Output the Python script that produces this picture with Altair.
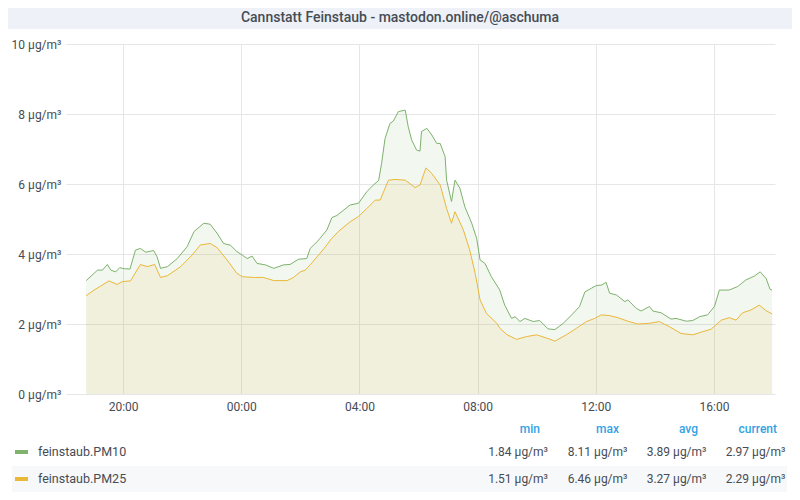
import altair as alt
import pandas as pd

TITLE = "Cannstatt Feinstaub - mastodon.online/@aschuma"
SERIES = ["feinstaub.PM10", "feinstaub.PM25"]
COLORS = ["#7eb26d", "#eab839"]
UNIT = " µg/m³"
STAT_HEADERS = ["min", "max", "avg", "current"]
STAT_MIN = ["1.84", "1.51"]
STAT_MAX = ["8.11", "6.46"]
STAT_AVG = ["3.89", "3.27"]
STAT_CUR = ["2.97", "2.29"]
Y_TICKS = [0, 2, 4, 6, 8, 10]
X_TICKS = ["20:00", "00:00", "04:00", "08:00", "12:00", "16:00"]
X_START, X_END = "18:04", "18:04"

pm10_time = ["18:45", "19:08", "19:18", "19:28", "19:35", "19:45", "19:53", "20:02", "20:14", "20:25",
             "20:35", "20:46", "21:02", "21:09", "21:16", "21:30", "21:50", "22:10", "22:24", "22:44",
             "22:57", "23:11", "23:24", "23:38", "23:51", "00:02", "00:12", "00:22", "00:32", "00:49",
             "01:06", "01:26", "01:39", "01:56", "02:13", "02:20", "02:34", "02:40", "02:54", "03:04",
             "03:14", "03:41", "03:58", "04:15", "04:28", "04:39", "04:45", "04:52", "05:02", "05:09",
             "05:19", "05:33", "05:39", "05:46", "05:56", "06:03", "06:06", "06:17", "06:27", "06:37",
             "06:44", "06:54", "06:57", "07:07", "07:14", "07:24", "07:34", "07:48", "07:58", "08:05",
             "08:15", "08:28", "08:45", "08:55", "09:09", "09:16", "09:26", "09:36", "09:53", "10:06",
             "10:23", "10:37", "10:54", "11:11", "11:27", "11:38", "11:51", "12:01", "12:11", "12:21",
             "12:28", "12:42", "12:59", "13:05", "13:22", "13:32", "13:49", "13:56", "14:13", "14:33",
             "14:43", "15:04", "15:17", "15:31", "15:47", "16:01", "16:11", "16:31", "16:48", "17:05",
             "17:22", "17:34", "17:46", "17:54", "17:58"]
pm10_val = [3.24, 3.54, 3.54, 3.70, 3.54, 3.49, 3.61, 3.58, 3.57, 4.11,
            4.16, 4.05, 4.10, 3.92, 3.59, 3.64, 3.87, 4.21, 4.64, 4.88,
            4.85, 4.59, 4.30, 4.25, 4.07, 3.97, 3.87, 3.94, 3.73, 3.69,
            3.59, 3.69, 3.70, 3.85, 3.87, 4.16, 4.35, 4.45, 4.69, 5.04,
            5.10, 5.40, 5.45, 5.78, 5.97, 6.10, 6.59, 7.30, 7.73, 7.80,
            8.07, 8.11, 7.64, 7.26, 6.97, 6.94, 7.50, 7.59, 7.40, 7.16,
            7.16, 6.78, 6.11, 5.50, 6.11, 5.88, 5.35, 4.88, 4.45, 3.83,
            3.73, 3.35, 2.97, 2.54, 2.16, 2.21, 2.07, 2.16, 2.07, 2.10,
            1.86, 1.84, 2.02, 2.26, 2.50, 2.92, 3.02, 3.10, 3.11, 3.19,
            2.88, 2.83, 2.64, 2.69, 2.45, 2.37, 2.50, 2.37, 2.32, 2.14,
            2.16, 2.08, 2.10, 2.21, 2.26, 2.50, 2.97, 2.97, 3.07, 3.26,
            3.37, 3.49, 3.30, 2.99, 2.97]

pm25_time = ["18:45", "19:01", "19:14", "19:31", "19:48", "19:58", "20:15", "20:35", "20:49", "21:04",
             "21:16", "21:30", "21:57", "22:20", "22:37", "22:57", "23:11", "23:31", "23:51", "00:02",
             "00:25", "00:45", "01:06", "01:33", "01:46", "02:00", "02:10", "02:20", "02:34", "02:40",
             "02:54", "03:01", "03:17", "03:41", "03:58", "04:15", "04:32", "04:42", "04:59", "05:12",
             "05:33", "05:53", "06:03", "06:15", "06:27", "06:44", "06:57", "07:07", "07:14", "07:31",
             "07:44", "07:55", "08:05", "08:18", "08:39", "08:45", "08:59", "09:19", "09:39", "10:00",
             "10:20", "10:37", "11:00", "11:21", "11:41", "11:58", "12:11", "12:28", "12:45", "13:05",
             "13:25", "13:49", "14:09", "14:30", "14:53", "15:17", "15:37", "15:54", "16:15", "16:31",
             "16:45", "16:58", "17:15", "17:32", "17:46", "17:58"]
pm25_val = [2.81, 2.97, 3.08, 3.23, 3.13, 3.21, 3.23, 3.70, 3.64, 3.70,
            3.33, 3.38, 3.64, 3.97, 4.26, 4.30, 4.18, 3.83, 3.45, 3.35,
            3.33, 3.33, 3.24, 3.24, 3.33, 3.49, 3.54, 3.69, 3.92, 4.02,
            4.26, 4.40, 4.64, 4.92, 5.07, 5.30, 5.54, 5.54, 6.11, 6.13,
            6.11, 5.90, 5.97, 6.46, 6.30, 5.97, 5.30, 4.88, 5.21, 4.69,
            4.11, 3.45, 2.69, 2.30, 2.02, 1.88, 1.70, 1.56, 1.64, 1.69,
            1.60, 1.51, 1.69, 1.88, 2.07, 2.16, 2.26, 2.24, 2.18, 2.08,
            2.00, 2.02, 2.07, 1.92, 1.73, 1.69, 1.78, 1.85, 2.11, 2.18,
            2.11, 2.32, 2.40, 2.54, 2.38, 2.29]


def hours(hm, first_day=True):
    # continuous hours since midnight of the first day (window starts at 18:00)
    h, m = (int(p) for p in hm.split(":"))
    val = h + m / 60.0
    if h < 18 or not first_day:
        val += 24
    return val


df = pd.concat([
    pd.DataFrame({"t": [hours(s) for s in pm10_time], "v": pm10_val, "s": SERIES[0]}),
    pd.DataFrame({"t": [hours(s) for s in pm25_time], "v": pm25_val, "s": SERIES[1]}),
])
x_ticks = [hours(s) for s in X_TICKS]
x_domain = [hours(X_START), hours(X_END, first_day=False)]

FONT = "Roboto"
TXT = "#464c54"
GRID = "#e6e6e6"
W, H = 709, 350

color = alt.Color("s:N", scale=alt.Scale(domain=SERIES, range=COLORS), legend=None)
x = alt.X("t:Q", scale=alt.Scale(domain=x_domain, nice=False, zero=False),
          axis=alt.Axis(title=None, values=x_ticks,
                        labelExpr="(datum.value % 24 < 10 ? '0' : '') + (datum.value % 24) + ':00'",
                        domain=False, ticks=False, labelPadding=7, labelFontSize=12,
                        labelColor=TXT, labelFont=FONT, gridColor=GRID, labelFlush=False))
y = alt.Y("v:Q", scale=alt.Scale(domain=[0, 10], nice=False), stack=None,
          axis=alt.Axis(title=None, values=Y_TICKS, labelExpr="datum.value + ' µg/m³'",
                        domain=False, ticks=False, labelPadding=5, labelFontSize=12,
                        labelColor=TXT, labelFont=FONT, gridColor=GRID))

base = alt.Chart(df)
areas = base.mark_area(opacity=0.1, interpolate="linear").encode(x=x, y=y, color=color, detail="s:N")
lines = base.mark_line(strokeWidth=1, interpolate="linear").encode(x=x, y=y, color=color, detail="s:N")

one = pd.DataFrame({"title": [TITLE]})
title_bg = alt.Chart(one).mark_rect(color="#eef1f7").encode(
    x=alt.value(-58), x2=alt.value(726), y=alt.value(-36), y2=alt.value(-15))
title_txt = alt.Chart(one).mark_text(font=FONT, fontSize=14, fontWeight=500, color=TXT,
                                     align="center", baseline="middle").encode(
    x=alt.value(334), y=alt.value(-26), text="title:N")

leg = pd.DataFrame({"name": SERIES, "color": COLORS, "idx": list(range(len(SERIES))),
                    "mn": [m + UNIT for m in STAT_MIN], "mx": [m + UNIT for m in STAT_MAX],
                    "av": [m + UNIT for m in STAT_AVG], "cu": [m + UNIT for m in STAT_CUR]})

legend_layers = []
for i in range(len(SERIES)):
    py = 408 + i * 27
    row = alt.Chart(leg).transform_filter(f"datum.idx == {i}")
    if i % 2 == 1:
        legend_layers.append(row.mark_rect(color="#f7f8fa").encode(
            x=alt.value(-54), x2=alt.value(721), y=alt.value(py - 13), y2=alt.value(py + 13)))
    legend_layers.append(row.mark_rule(strokeWidth=4, color=COLORS[i]).encode(
        x=alt.value(-51), x2=alt.value(-38), y=alt.value(py)))
    legend_layers.append(row.mark_text(font=FONT, fontSize=12.5, color=TXT, align="left",
                                       baseline="middle").encode(
        x=alt.value(-28), y=alt.value(py), text="name:N"))
    for field, xr in zip(["mn", "mx", "av", "cu"], [482, 561.5, 640.5, 719.5]):
        legend_layers.append(row.mark_text(font=FONT, fontSize=12, color=TXT, align="right",
                                           baseline="middle").encode(
            x=alt.value(xr), y=alt.value(py), text=f"{field}:N"))

hdr = pd.DataFrame({"h": STAT_HEADERS, "k": list(range(len(STAT_HEADERS)))})
header_layers = []
for k in range(len(STAT_HEADERS)):
    header_layers.append(alt.Chart(hdr).transform_filter(f"datum.k == {k}").mark_text(
        font=FONT, fontSize=12, fontWeight=500, color="#33a2e5", align="right",
        baseline="middle").encode(x=alt.value(474 + k * 79), y=alt.value(385), text="h:N"))

chart = alt.layer(
    areas, lines, title_bg, title_txt, *legend_layers, *header_layers
).properties(
    width=W, height=H, background="white",
    autosize=alt.AutoSizeParams(type="none"),
    padding={"left": 58, "top": 36, "right": 17, "bottom": 98},
).configure_view(stroke=None)

chart.save("out.html", embed_options={"renderer": "svg", "actions": False})
